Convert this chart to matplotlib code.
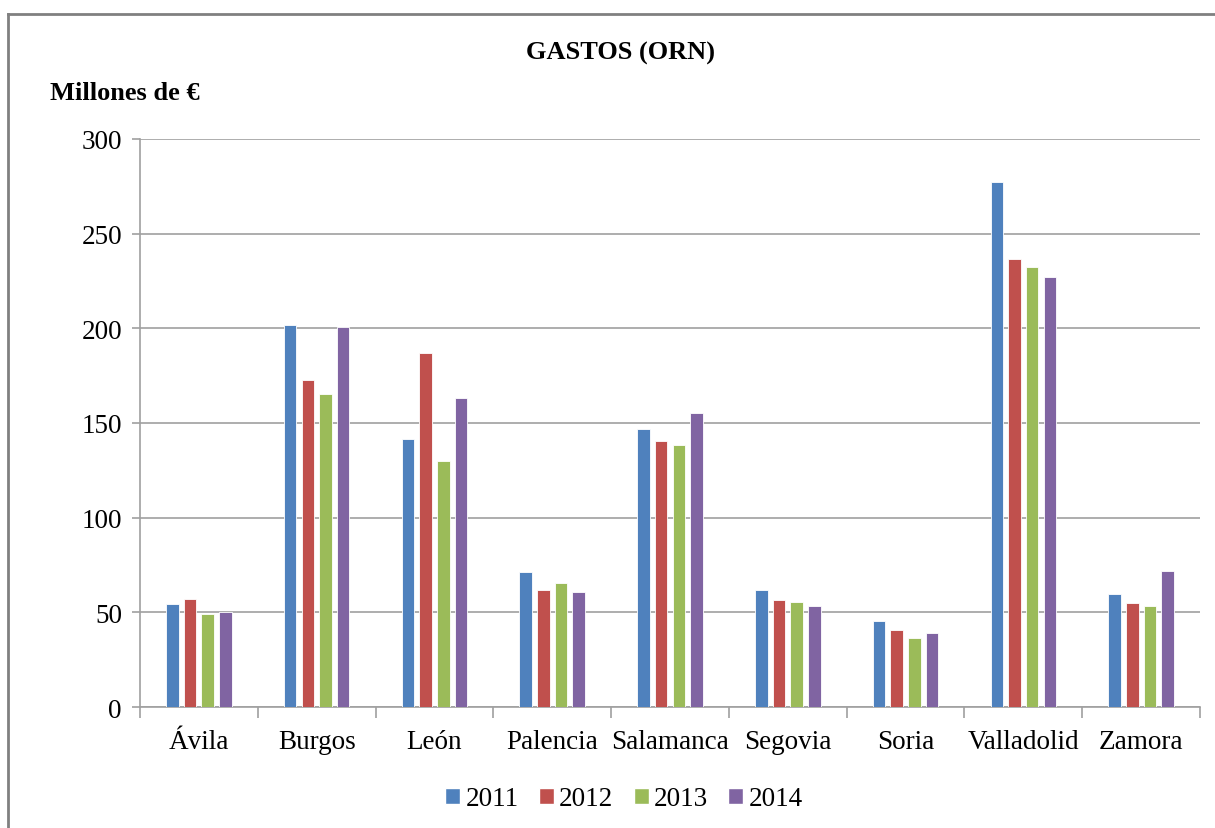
import numpy as np
import matplotlib
matplotlib.use('Agg')
from matplotlib import pyplot as plt
from matplotlib.lines import Line2D
from matplotlib.patches import Patch

provinces = ['Ávila', 'Burgos', 'León', 'Palencia', 'Salamanca',
             'Segovia', 'Soria', 'Valladolid', 'Zamora']
years = ['2011', '2012', '2013', '2014']
g2011 = [54.2, 201.9, 141.7, 71.3, 147.0, 61.8, 45.3, 277.2, 59.7]
g2012 = [57.0, 172.9, 187.1, 61.8, 140.3, 56.3, 40.6, 236.8, 54.9]
g2013 = [48.9, 165.3, 130.1, 65.7, 138.4, 55.6, 36.6, 232.6, 53.4]
g2014 = [50.2, 200.7, 163.4, 60.9, 155.3, 53.5, 39.3, 227.2, 71.8]
colors = ['#4F81BD', '#C0504D', '#9BBB59', '#8064A2']

plt.rcParams['font.family'] = ['Liberation Serif', 'DejaVu Serif']

fig = plt.figure(figsize=(12.15, 8.29), dpi=100)
W, H = 1215, 829
ax = fig.add_axes([140 / W, 1 - 708 / H, 1060 / W, 568 / H])

x = np.arange(len(provinces))
pitch = 0.15
width = 0.107
for i, (vals, c) in enumerate(zip([g2011, g2012, g2013, g2014], colors)):
    ax.bar(x + (i - 1.5) * pitch, vals, width, color=c, edgecolor='white',
           linewidth=0.6, zorder=3, label=years[i])

ax.set_xlim(-0.5, len(provinces) - 0.5)
ax.set_ylim(0, 300)
ax.set_yticks(range(0, 301, 50))
ax.yaxis.grid(True, color='#A0A0A0', linewidth=1.2, zorder=0)
ax.set_axisbelow(True)
for s in ['top', 'right']:
    ax.spines[s].set_visible(False)
for s in ['left', 'bottom']:
    ax.spines[s].set_color('#A0A0A0')
    ax.spines[s].set_linewidth(1.2)

# category labels centred, tick marks at group boundaries
ax.set_xticks(np.arange(-0.5, len(provinces)), minor=False)
ax.set_xticklabels([])
ax.set_xticks(x, minor=True)
ax.set_xticklabels(provinces, minor=True, fontsize=19.5)
ax.tick_params(axis='x', which='major', length=8, color='#A0A0A0', width=1.2)
ax.tick_params(axis='x', which='minor', length=0, pad=16)
ax.tick_params(axis='y', length=6, color='#A0A0A0', width=1.2, labelsize=19.5, pad=7)

fig.text(620 / W, 1 - 53 / H, 'GASTOS (ORN)', ha='center', va='center',
         fontsize=19, fontweight='bold')
fig.text(50 / W, 1 - 93 / H, 'Millones de €', ha='left', va='center',
         fontsize=19, fontweight='bold')

handles = [Patch(facecolor=c, edgecolor='white', label=y) for c, y in zip(colors, years)]
fig.legend(handles=handles, loc='center', bbox_to_anchor=(624 / W, 1 - 800 / H),
           ncol=4, frameon=False, fontsize=19.5, handlelength=0.55, handleheight=0.55,
           handletextpad=0.2, columnspacing=0.75)

# outer chart frame
fig.add_artist(Line2D([8 / W, 8 / W], [0, 1 - 15 / H], transform=fig.transFigure,
                      color='#808080', linewidth=2))
fig.add_artist(Line2D([8 / W, 1], [1 - 15 / H, 1 - 15 / H], transform=fig.transFigure,
                      color='#808080', linewidth=2))

fig.savefig('out.png', dpi=100, facecolor='white')
